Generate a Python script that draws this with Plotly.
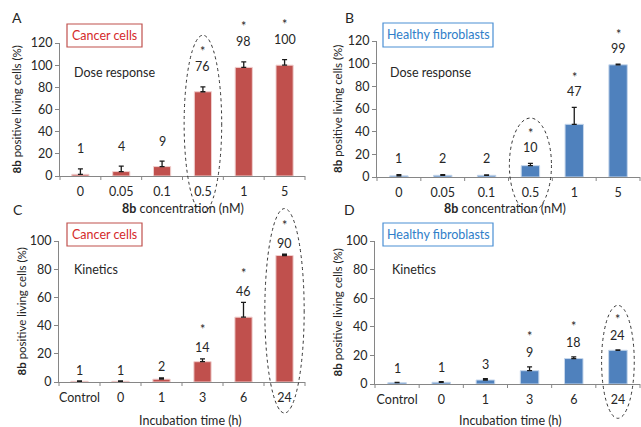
import plotly.graph_objects as go

W, H = 641, 427

# ---------------- data ----------------
dose_labels = ["0", "0.05", "0.1", "0.5", "1", "5"]
time_labels = ["Control", "0", "1", "3", "6", "24"]

cancer_dose = [1.5, 4, 8.5, 76, 98, 100]
cancer_dose_err = [5, 5, 5, 4.5, 5, 5]
cancer_dose_text = ["1", "4", "9", "76", "98", "100"]
cancer_dose_star = [False, False, False, True, True, True]

fibro_dose = [1, 1.5, 1.5, 10, 46.5, 99]
fibro_dose_err = [1, 0.6, 0.3, 2, 15, 0.5]
fibro_dose_text = ["1", "2", "2", "10", "47", "99"]
fibro_dose_star = [False, False, False, True, True, True]

cancer_time = [0.5, 0.5, 2, 14.4, 46, 89.7]
cancer_time_err = [0.2, 0.2, 0.9, 2, 10.5, 1]
cancer_time_text = ["1", "1", "2", "14", "46", "90"]
cancer_time_star = [False, False, False, True, True, True]

fibro_time = [0.9, 1.2, 2.8, 9.3, 17.8, 23.6]
fibro_time_err = [0.3, 0.4, 0.9, 2.7, 1.2, 0.3]
fibro_time_text = ["1", "1", "3", "9", "18", "24"]
fibro_time_star = [False, False, False, True, True, True]

RED = "#c0504d"
RED_EDGE = "#f0cfce"
BLUE = "#4f81bd"
BLUE_EDGE = "#c6d7ec"
AXIS = "#868686"
TXT = "#262626"
FONT = "Lato"


def px(x):
    return x / W


def py(y):
    return 1 - y / H


# panel geometry in pixels: (left, right, bottom, top)
panels = {
    "A": dict(ax="x", ay="y", l=60, r=305, b=176, t=43, ymax=120,
              cats=dose_labels, vals=cancer_dose, err=cancer_dose_err,
              txt=cancer_dose_text, star=cancer_dose_star, color=RED, edge=RED_EDGE,
              lab_shift=20, star_shift=15),
    "B": dict(ax="x2", ay="y2", l=377, r=640, b=177, t=41, ymax=120,
              cats=dose_labels, vals=fibro_dose, err=fibro_dose_err,
              txt=fibro_dose_text, star=fibro_dose_star, color=BLUE, edge=BLUE_EDGE,
              lab_shift=16, star_shift=14),
    "C": dict(ax="x3", ay="y3", l=59, r=305, b=382, t=241, ymax=100,
              cats=time_labels, vals=cancer_time, err=cancer_time_err,
              txt=cancer_time_text, star=cancer_time_star, color=RED, edge=RED_EDGE,
              lab_shift=11, star_shift=18),
    "D": dict(ax="x4", ay="y4", l=375, r=640, b=384, t=241, ymax=100,
              cats=time_labels, vals=fibro_time, err=fibro_time_err,
              txt=fibro_time_text, star=fibro_time_star, color=BLUE, edge=BLUE_EDGE,
              lab_shift=14, star_shift=16),
}
ytitle_x = {"A": 16, "B": 337, "C": 21, "D": 337}

fig = go.Figure()
layout = dict(width=W, height=H, margin=dict(l=0, r=0, t=0, b=0, pad=0), autosize=False,
              paper_bgcolor="white", plot_bgcolor="white", showlegend=False,
              font=dict(family=FONT, size=12, color=TXT))
annotations = []
shapes = []


def note(x, y, text, size=12.5, color=TXT, xanchor="center", **kw):
    d = dict(x=px(x), y=py(y), xref="paper", yref="paper", text=text, showarrow=False,
             xanchor=xanchor, yanchor="middle", font=dict(size=size, color=color))
    d.update(kw)
    annotations.append(d)


for name, p in panels.items():
    xs = p["ax"]
    ys = p["ay"]
    fig.add_trace(go.Bar(
        x=list(range(6)), y=p["vals"], xaxis=xs, yaxis=ys, width=0.42,
        marker=dict(color=p["color"], line=dict(color=p["edge"], width=1)),
        error_y=dict(type="data", array=p["err"], arrayminus=[0] * 6, symmetric=False,
                     color="#1a1a1a", thickness=1.3, width=2.5),
        hoverinfo="skip",
    ))
    xkey = "xaxis" + xs[1:]
    ykey = "yaxis" + ys[1:]
    layout[xkey] = dict(domain=[px(p["l"]), px(p["r"])], anchor=ys, range=[-0.5, 5.5],
                        tickmode="array", tickvals=list(range(6)), ticktext=p["cats"],
                        showline=True, linecolor=AXIS, linewidth=1, ticks="",
                        showgrid=False, zeroline=False, tickfont=dict(size=12.5, color=TXT),
                        ticklabelstandoff=4, automargin=False, fixedrange=True)
    layout[ykey] = dict(domain=[py(p["b"]), py(p["t"])], anchor=xs, range=[0, p["ymax"]],
                        dtick=20, showline=True, linecolor=AXIS, linewidth=1,
                        ticks="outside", ticklen=4, tickcolor=AXIS, showgrid=False,
                        zeroline=False, tickfont=dict(size=12.5, color=TXT),
                        automargin=False, fixedrange=True)
    # boundary tick marks on the x axis
    for k in range(7):
        shapes.append(dict(type="line", xref=xs + " domain", yref=ys + " domain",
                           x0=k / 6, x1=k / 6, y0=0, y1=-4 / (p["b"] - p["t"]),
                           line=dict(color=AXIS, width=1)))
    # value labels and stars
    for i in range(6):
        top = p["vals"][i] + p["err"][i]
        annotations.append(dict(x=i, y=top, xref=xs, yref=ys, text=p["txt"][i],
                                showarrow=False, yshift=p["lab_shift"],
                                xanchor="center", yanchor="middle",
                                font=dict(size=12.5, color=TXT)))
        if p["star"][i]:
            annotations.append(dict(x=i, y=top, xref=xs, yref=ys, text="*",
                                    showarrow=False, xanchor="center", yanchor="middle",
                                    yshift=p["lab_shift"] + p["star_shift"],
                                    font=dict(size=12.5, color=TXT)))
    # y axis title
    note(ytitle_x[name], (p["b"] + p["t"]) / 2, "<b>8b</b> positive living cells (%)",
         size=11.5, textangle=-90)

# x-axis titles
note(183, 208, "<b>8b</b> concentration (nM)", size=12.5)
note(505, 208, "<b>8b</b> concentration (nM)", size=12.5)
note(190, 420, "Incubation time (h)", size=12.5)
note(510, 420, "Incubation time (h)", size=12.5)

# panel letters
for letter, (lx, ly) in {"A": (17, 17), "B": (349, 17), "C": (18, 209), "D": (349, 209)}.items():
    note(lx, ly, letter, size=14)

# legend-like boxes
boxes = [
    ("Cancer cells", 67, 142, 24, 47, RED, "#d42a2a"),
    ("Healthy fibroblasts", 383, 493, 23, 47, "#4a8fd4", "#2f7ec9"),
    ("Cancer cells", 67, 142, 223, 246, RED, "#d42a2a"),
    ("Healthy fibroblasts", 383, 493, 223, 246, "#4a8fd4", "#2f7ec9"),
]
for text, x0, x1, y0, y1, bc, tc in boxes:
    shapes.append(dict(type="rect", xref="paper", yref="paper", x0=px(x0), x1=px(x1),
                       y0=py(y1), y1=py(y0), line=dict(color=bc, width=1.2),
                       fillcolor="white"))
    note((x0 + x1) / 2, (y0 + y1) / 2, text, color=tc)

# inner captions
for text, x, y in [("Dose response", 72, 73), ("Dose response", 388, 73),
                   ("Kinetics", 72, 269), ("Kinetics", 390, 269)]:
    note(x, y, text, xanchor="left")

# dotted ellipses (category index, half width in categories, y range in data units)
ellipses = [("A", 3, 0.46, -33, 127), ("B", 3, 0.48, -31, 52),
            ("C", 5, 0.48, -22, 123), ("D", 5, 0.37, -24, 55)]
for name, idx, hw, ylo, yhi in ellipses:
    p = panels[name]
    shapes.append(dict(type="circle", xref=p["ax"] + " domain", yref=p["ay"] + " domain",
                       x0=(idx + 0.5 - hw) / 6, x1=(idx + 0.5 + hw) / 6,
                       y0=ylo / p["ymax"], y1=yhi / p["ymax"],
                       line=dict(color="#333333", width=1, dash="dot")))

layout["annotations"] = annotations
layout["shapes"] = shapes
fig.update_layout(**layout)
fig.write_html("out.html", config={"displayModeBar": False, "staticPlot": True},
               post_script="document.body.style.margin='0';document.body.style.overflow='hidden';")
